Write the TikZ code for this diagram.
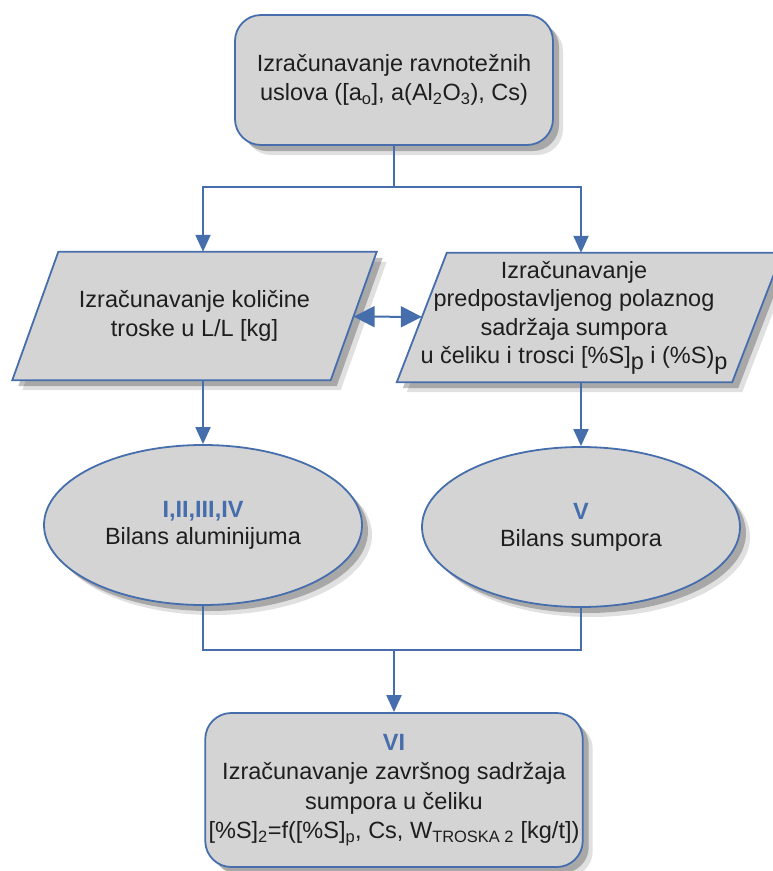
\documentclass[tikz,border=0pt]{standalone}
\usepackage{fontspec}
\setmainfont{Liberation Sans}
\usetikzlibrary{shapes.geometric,shadows,arrows.meta,backgrounds}
\definecolor{lineblue}{RGB}{70,110,172}
\definecolor{boxgray}{RGB}{212,212,212}
\definecolor{textgray}{RGB}{30,30,30}
\tikzset{
	boxtext/.style={text=textgray, align=center, font=\fontsize{23.5}{29.5}\selectfont},
	shade/.style={draw=lineblue, line width=1.8pt, fill=boxgray,
		drop shadow={shadow xshift=10pt, shadow yshift=-10pt, opacity=0.12, fill=black},
		drop shadow={shadow xshift=6pt, shadow yshift=-6pt, opacity=0.25, fill=black}},
	box/.style={boxtext, shade},
	roundbox/.style={box, rectangle, rounded corners=26pt},
	databox/.style={boxtext, rectangle, inner sep=0pt},
	balbox/.style={box, ellipse, inner sep=0pt, font=\fontsize{23.5}{27}\selectfont},
	link/.style={draw=lineblue, line width=2pt},
	arrow/.style={link, -{Triangle[width=15pt,length=17pt]}},
	both/.style={link, {Triangle[width=21pt,length=21pt]}-{Triangle[width=21pt,length=21pt]}},
}
\newcommand{\stage}[1]{\textcolor{lineblue}{\textbf{#1}}}
\newcommand{\para}[2]{([xshift=#2]#1.north west) -- ([xshift=#2]#1.north east) -- ([xshift=-#2]#1.south east) -- ([xshift=-#2]#1.south west) -- cycle}

\begin{document}
\begin{tikzpicture}[x=1pt, y=-1pt]
	\useasboundingbox (0,0) rectangle (773,871);
	\node[roundbox, minimum width=318pt, minimum height=130pt] (ravn) at (394,80) {Izračunavanje ravnotežnih\\uslova ([a\textsubscript{o}], a(Al\textsubscript{2}O\textsubscript{3}), Cs)};
	\node[databox, minimum width=318pt, minimum height=128pt] (troska) at (194.5,316) {Izračunavanje količine\\troske u L/L [kg]};
	\node[databox, minimum width=335pt, minimum height=129pt] (sumpor) at (589.5,317.5) {};
	\node[boxtext, font=\fontsize{23.5}{28.5}\selectfont] (sumportext) at (574,318) {Izračunavanje\\predpostavljenog polaznog\\sadržaja sumpora\\u čeliku i trosci [\%S]\raisebox{-6pt}{p} i (\%S)\raisebox{-6pt}{p}};
	\begin{scope}[on background layer]
		\path[shade] \para{troska}{23pt};
		\path[shade] \para{sumpor}{25pt};
	\end{scope}
	\node[balbox, minimum width=318pt, minimum height=160pt] (balAl) at (203,525) {\stage{I,II,III,IV}\\Bilans aluminijuma};
	\node[balbox, minimum width=318pt, minimum height=160pt] (balS) at (581,527) {\stage{V}\\Bilans sumpora};
	\node[roundbox, minimum width=376pt, minimum height=154pt] (final) at (394,790) {\stage{VI}\\Izračunavanje završnog sadržaja\\sumpora u čeliku\\{}[\%S]\textsubscript{2}=f([\%S]\textsubscript{p}, Cs, W\textsubscript{TROSKA 2} [kg/t])};
	\coordinate (split) at (394,187);
	\coordinate (join) at (394,650);
	\draw[link] (ravn) -- (split);
	\draw[arrow] (split) -| (troska.north -| balAl);
	\draw[arrow] (split) -| (sumpor.north -| balS);
	\draw[both] (troska) -- (sumpor);
	\draw[arrow] (troska.south -| balAl) -- (balAl);
	\draw[arrow] (sumpor.south -| balS) -- (balS);
	\draw[link] (balAl) |- (join);
	\draw[link] (balS) |- (join);
	\draw[arrow] (join) -- (final);
\end{tikzpicture}
\end{document}
